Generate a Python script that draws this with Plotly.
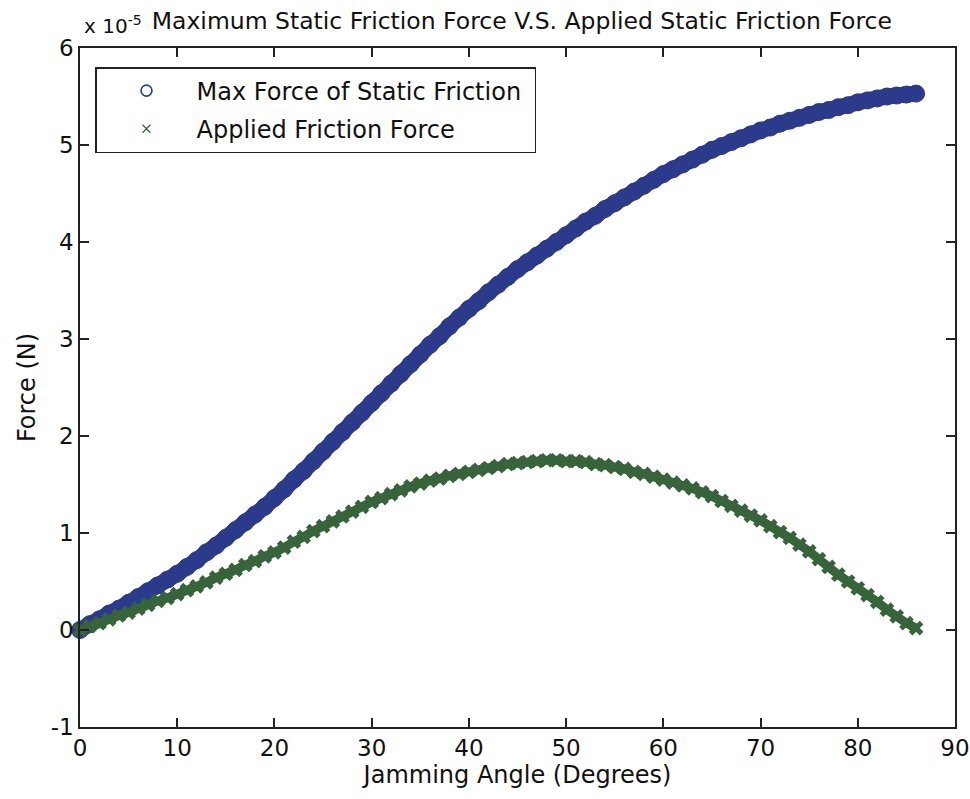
import plotly.graph_objects as go

# Jamming angle in degrees
angle_deg = list(range(0, 87))

# Maximum static friction force (units of 1e-5 N)
max_static_friction = [
    0.00, 0.06, 0.11, 0.17, 0.22, 0.28, 0.34, 0.40, 0.46, 0.52,
    0.58, 0.65, 0.72, 0.80, 0.87, 0.95, 1.03, 1.11, 1.19, 1.27,
    1.36, 1.45, 1.55, 1.64, 1.74, 1.84, 1.94, 2.04, 2.14, 2.24,
    2.34, 2.44, 2.54, 2.64, 2.74, 2.84, 2.94, 3.03, 3.13, 3.22,
    3.31, 3.39, 3.48, 3.56, 3.64, 3.72, 3.79, 3.86, 3.93, 4.00,
    4.07, 4.14, 4.21, 4.27, 4.34, 4.40, 4.46, 4.52, 4.58, 4.64,
    4.70, 4.75, 4.80, 4.85, 4.90, 4.95, 4.99, 5.03, 5.07, 5.11,
    5.15, 5.18, 5.22, 5.25, 5.28, 5.31, 5.34, 5.36, 5.39, 5.41,
    5.44, 5.46, 5.48, 5.50, 5.51, 5.52, 5.53,
]

# Applied friction force (units of 1e-5 N)
applied_friction = [
    0.00, 0.04, 0.07, 0.11, 0.15, 0.18, 0.22, 0.26, 0.30, 0.33,
    0.37, 0.41, 0.45, 0.49, 0.54, 0.58, 0.62, 0.67, 0.71, 0.76,
    0.80, 0.85, 0.91, 0.96, 1.02, 1.07, 1.12, 1.17, 1.22, 1.27,
    1.32, 1.36, 1.40, 1.44, 1.48, 1.51, 1.54, 1.56, 1.59, 1.61,
    1.63, 1.65, 1.67, 1.69, 1.71, 1.72, 1.73, 1.74, 1.75, 1.75,
    1.74, 1.74, 1.73, 1.71, 1.70, 1.68, 1.66, 1.63, 1.61, 1.58,
    1.55, 1.52, 1.49, 1.46, 1.42, 1.38, 1.33, 1.28, 1.23, 1.18,
    1.13, 1.07, 1.01, 0.95, 0.88, 0.81, 0.73, 0.65, 0.57, 0.50,
    0.43, 0.36, 0.29, 0.21, 0.14, 0.07, 0.02,
]

x_ticks = list(range(0, 91, 10))
y_ticks = list(range(-1, 7))
y_tick_text = [str(v) for v in y_ticks]

series_names = ["Max Force of Static Friction", "Applied Friction Force"]
BLUE = "#2c3a8c"
GREEN = "#37643b"
FONT = "DejaVu Sans"
TXT = "#111111"

fig = go.Figure()

# Dense circle markers merge into a solid band
fig.add_trace(go.Scatter(
    x=angle_deg, y=max_static_friction, mode="lines+markers",
    line=dict(color=BLUE, width=16, simplify=False),
    marker=dict(symbol="circle", size=17, color=BLUE, line=dict(color=BLUE, width=1)),
    cliponaxis=False, showlegend=False,
))
fig.add_trace(go.Scatter(
    x=angle_deg, y=applied_friction, mode="lines+markers",
    line=dict(color=GREEN, width=9, simplify=False),
    marker=dict(symbol="x", size=13, color=GREEN),
    cliponaxis=False, showlegend=False,
))

# Legend entries
fig.add_trace(go.Scatter(
    x=[None], y=[None], mode="markers",
    name=series_names[0] + "\u00a0", legendgroup="a",
    marker=dict(symbol="circle-open", size=11, color=BLUE, line=dict(color=BLUE, width=1.6)),
))
fig.add_trace(go.Scatter(
    x=[None], y=[None], mode="markers", name=series_names[1], legendgroup="b",
    marker=dict(symbol="x-thin-open", size=8, color=GREEN, line=dict(color=GREEN, width=1.3)),
))

axis_common = dict(
    showline=True, linecolor="#222222", linewidth=1.5, mirror="ticks",
    ticks="inside", ticklen=9, tickwidth=1.5, tickcolor="#222222",
    showgrid=False, zeroline=False, automargin=False,
    tickfont=dict(family=FONT, size=23, color=TXT),
)

fig.update_layout(
    width=970, height=799,
    margin=dict(l=80, r=15, t=48, b=72),
    paper_bgcolor="white", plot_bgcolor="white",
    font=dict(family=FONT, size=23, color=TXT),
    title=dict(
        text="Maximum Static Friction Force V.S. Applied Static Friction Force",
        x=0.505, xref="paper", y=1 - 21 / 799, yref="container",
        xanchor="center", yanchor="middle",
        font=dict(family=FONT, size=23.5, color=TXT),
    ),
    xaxis=dict(range=[0, 90], tickvals=x_ticks,
               title=dict(text="Jamming Angle (Degrees)", standoff=6,
                          font=dict(family=FONT, size=24)),
               **axis_common),
    yaxis=dict(range=[-1, 6], tickvals=y_ticks, ticktext=y_tick_text,
               title=dict(text="Force (N)", standoff=8,
                          font=dict(family=FONT, size=24)),
               **axis_common),
    legend=dict(
        x=15 / 875, y=1 - 19 / 679, xanchor="left", yanchor="top",
        bgcolor="white", bordercolor="#222222", borderwidth=1.5,
        font=dict(family=FONT, size=24, color=TXT),
        itemwidth=90, traceorder="grouped", tracegroupgap=4,
    ),
    annotations=[dict(
        text="x 10<sup>-5</sup>", xref="paper", yref="paper",
        x=2 / 875, y=1 + 23 / 679, xanchor="left", yanchor="middle",
        showarrow=False, font=dict(family=FONT, size=20, color=TXT),
    )],
)

fig.write_html("out.html")
